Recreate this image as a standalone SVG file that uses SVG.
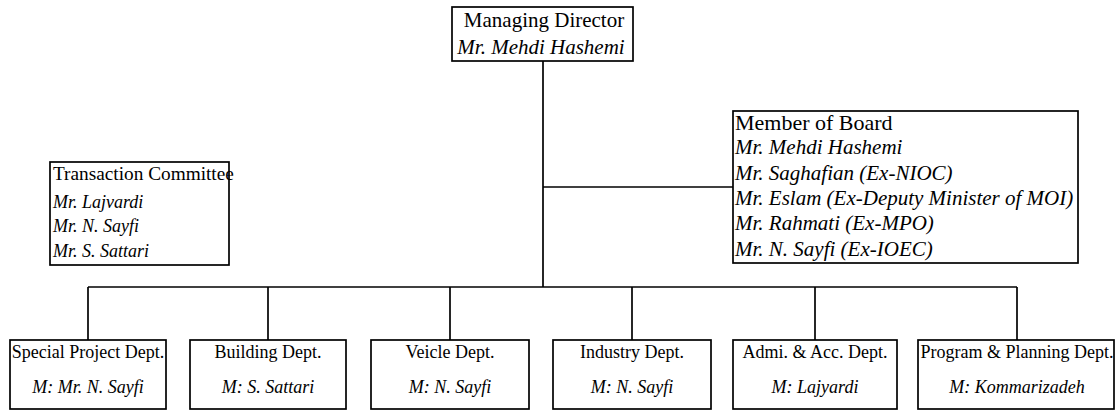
<svg xmlns="http://www.w3.org/2000/svg" width="1116" height="410" viewBox="0 0 1116 410">
  <style>
    .box { fill: #ffffff; stroke: #000000; stroke-width: 1.7; }
    .line { fill: none; stroke: #000000; stroke-width: 1.7; }
    text { font-family: "Liberation Serif", "Times New Roman", serif; fill: #000000; }
    .head { font-size: 21px; }
    .board-head { font-size: 22px; }
    .name { font-size: 21px; font-style: italic; }
    .board-row { font-size: 21px; font-style: italic; }
    .tc-head { font-size: 19.3px; }
    .tc-row { font-size: 18px; font-style: italic; }
    .dept { font-size: 18px; text-anchor: middle; }
    .mgr { font-size: 18px; font-style: italic; text-anchor: middle; }
  </style>

  <rect width="1116" height="410" fill="#ffffff"/>

  <!-- connectors -->
  <g id="connectors">
    <path class="line" d="M543,61 V287"/>
    <path class="line" d="M543,187 H733"/>
    <path class="line" d="M88,287 H1017"/>
    <path class="line" d="M88,287 V340"/>
    <path class="line" d="M268,287 V340"/>
    <path class="line" d="M450,287 V340"/>
    <path class="line" d="M632,287 V340"/>
    <path class="line" d="M815,287 V340"/>
    <path class="line" d="M1017,287 V340"/>
  </g>

  <!-- top of the chart -->
  <g id="managing-director">
    <rect class="box" x="452" y="7" width="181" height="54"/>
    <text class="head" x="544" y="27" text-anchor="middle">Managing Director</text>
    <text class="name" x="541" y="54" text-anchor="middle">Mr. Mehdi Hashemi</text>
  </g>

  <g id="transaction-committee">
    <rect class="box" x="50" y="162" width="179" height="103"/>
    <text class="tc-head" x="53" y="180">Transaction Committee</text>
    <text class="tc-row" x="53" y="208">Mr. Lajvardi</text>
    <text class="tc-row" x="53" y="232">Mr. N. Sayfi</text>
    <text class="tc-row" x="53" y="257">Mr. S. Sattari</text>
  </g>

  <g id="member-of-board">
    <rect class="box" x="733" y="111" width="345" height="152"/>
    <text class="board-head" x="735" y="130">Member of Board</text>
    <text class="board-row" x="735" y="154">Mr. Mehdi Hashemi</text>
    <text class="board-row" x="735" y="180">Mr. Saghafian (Ex-NIOC)</text>
    <text class="board-row" x="735" y="205">Mr. Eslam (Ex-Deputy Minister of MOI)</text>
    <text class="board-row" x="735" y="230">Mr. Rahmati (Ex-MPO)</text>
    <text class="board-row" x="735" y="256">Mr. N. Sayfi (Ex-IOEC)</text>
  </g>

  <!-- departments -->
  <g id="dept-special-project">
    <rect class="box" x="10" y="340" width="156" height="69"/>
    <text class="dept" x="88" y="358">Special Project Dept.</text>
    <text class="mgr" x="88" y="393">M: Mr. N. Sayfi</text>
  </g>

  <g id="dept-building">
    <rect class="box" x="190" y="340" width="156" height="69"/>
    <text class="dept" x="268" y="358">Building Dept.</text>
    <text class="mgr" x="268" y="393">M: S. Sattari</text>
  </g>

  <g id="dept-veicle">
    <rect class="box" x="371" y="340" width="158" height="69"/>
    <text class="dept" x="450" y="358">Veicle Dept.</text>
    <text class="mgr" x="450" y="393">M: N. Sayfi</text>
  </g>

  <g id="dept-industry">
    <rect class="box" x="553" y="340" width="158" height="69"/>
    <text class="dept" x="632" y="358">Industry Dept.</text>
    <text class="mgr" x="632" y="393">M: N. Sayfi</text>
  </g>

  <g id="dept-admin-accounting">
    <rect class="box" x="733" y="340" width="164" height="69"/>
    <text class="dept" x="815" y="358">Admi. &amp; Acc. Dept.</text>
    <text class="mgr" x="815" y="393">M: Lajyardi</text>
  </g>

  <g id="dept-program-planning">
    <rect class="box" x="918" y="340" width="196" height="69"/>
    <text class="dept" x="1017" y="358">Program &amp; Planning Dept.</text>
    <text class="mgr" x="1017" y="393">M: Kommarizadeh</text>
  </g>
</svg>
